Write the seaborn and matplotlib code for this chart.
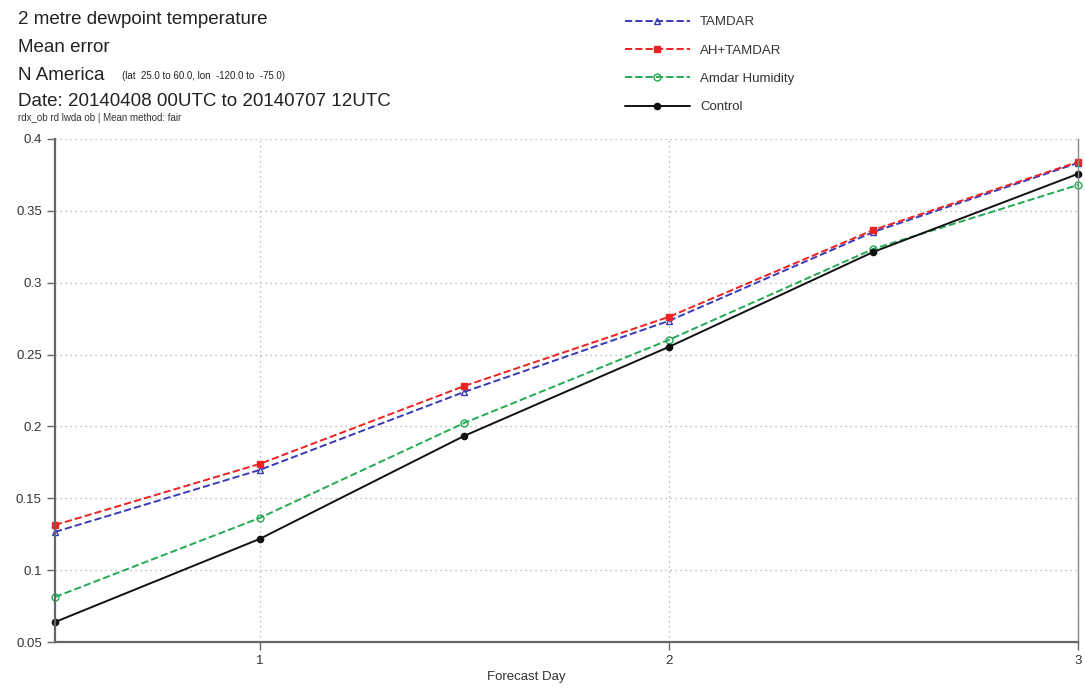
import matplotlib
matplotlib.use("Agg")
import matplotlib.pyplot as plt
import seaborn as sns
import pandas as pd

# Forecast day steps and mean error per experiment
forecast_day = [0.5, 1.0, 1.5, 2.0, 2.5, 3.0]
tamdar = [0.1266, 0.1697, 0.2240, 0.2734, 0.3353, 0.3833]
ah_tamdar = [0.1314, 0.1739, 0.2281, 0.2762, 0.3367, 0.3840]
amdar_humidity = [0.0813, 0.1363, 0.2024, 0.2602, 0.3235, 0.3680]
control = [0.0639, 0.1217, 0.1934, 0.2553, 0.3214, 0.3757]

y_ticks = [0.05, 0.1, 0.15, 0.2, 0.25, 0.3, 0.35, 0.4]
y_tick_labels = ['0.05', '0.1', '0.15', '0.2', '0.25', '0.3', '0.35', '0.4']
x_ticks = [1, 2, 3]

sns.set_style("white")
plt.rcParams['font.family'] = ['Liberation Sans', 'DejaVu Sans']

fig = plt.figure(figsize=(10.85, 6.89), dpi=100)
ax = fig.add_axes([0.0507, 0.0682, 0.9428, 0.7301])

series = [
    ('TAMDAR', tamdar, '#3a3ab8', '--', '^', 'none', 5),
    ('AH+TAMDAR', ah_tamdar, '#ee2222', '--', 's', '#ee2222', 5),
    ('Amdar Humidity', amdar_humidity, '#22aa55', '--', 'o', 'none', 5),
    ('Control', control, '#111111', '-', 'o', '#111111', 4.5),
]

for name, vals, color, ls, marker, mfc, ms in series:
    df = pd.DataFrame({'day': forecast_day, 'err': vals})
    sns.lineplot(data=df, x='day', y='err', ax=ax, color=color, linestyle=ls,
                 linewidth=1.4, marker=marker, markersize=ms, markerfacecolor=mfc,
                 markeredgecolor=color, markeredgewidth=1.0, label=name,
                 dashes=False if ls == '-' else (4, 2), clip_on=False)

ax.set_xlim(0.5, 3)
ax.set_ylim(0.05, 0.4)
ax.set_xticks(x_ticks)
ax.set_xticklabels([str(t) for t in x_ticks])
ax.set_yticks(y_ticks)
ax.set_yticklabels(y_tick_labels)
ax.tick_params(axis='both', direction='out', length=6, width=1, color='#666666',
               labelsize=9.5, labelcolor='#333333', bottom=True, left=True)
ax.grid(True, linestyle=(0, (1, 3)), color='#aaaaaa', linewidth=0.9)

for side in ['left', 'bottom']:
    ax.spines[side].set_color('#666666')
    ax.spines[side].set_linewidth(1.6)
ax.spines['right'].set_color('#888888')
ax.spines['right'].set_linewidth(1.0)
ax.spines['top'].set_visible(False)

ax.set_xlabel('Forecast Day', fontsize=9.5, color='#333333')
ax.xaxis.set_label_coords(0.461, -0.058)
ax.set_ylabel('')

handles, labels = ax.get_legend_handles_labels()
ax.get_legend().remove()
fig.legend(handles, labels, loc='upper left', bbox_to_anchor=(0.565, 0.994),
           frameon=False, fontsize=9.5, handlelength=4.9, labelspacing=1.22,
           handletextpad=0.8, labelcolor='#333333')

fig.text(0.017, 1 - 20 / 689, '2 metre dewpoint temperature', fontsize=13.5,
         color='#222222', va='center')
fig.text(0.017, 1 - 47 / 689, 'Mean error', fontsize=13.5, color='#222222', va='center')
fig.text(0.017, 1 - 75 / 689, 'N America', fontsize=13.5, color='#222222', va='center')
fig.text(0.112, 1 - 76 / 689, '(lat  25.0 to 60.0, lon  -120.0 to  -75.0)', fontsize=7,
         color='#222222', va='center')
fig.text(0.017, 1 - 101 / 689, 'Date: 20140408 00UTC to 20140707 12UTC', fontsize=13.5,
         color='#222222', va='center')
fig.text(0.017, 1 - 118 / 689, 'rdx_ob rd lwda ob | Mean method: fair', fontsize=7,
         color='#333333', va='center')

fig.savefig('out.png', dpi=100)
